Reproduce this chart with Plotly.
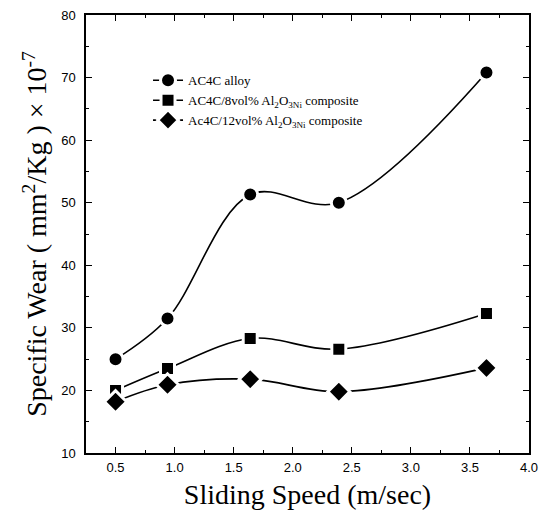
import plotly.graph_objects as go

# Sliding speed (m/sec) at which each specimen was tested
speed = [0.5, 0.94, 1.64, 2.39, 3.64]

# Specific wear (mm^2/Kg x 10^-7)
wear_alloy = [25.0, 31.5, 51.3, 50.0, 70.8]
wear_8vol = [20.0, 23.5, 28.3, 26.6, 32.3]
wear_12vol = [18.2, 20.9, 21.8, 19.8, 23.6]

series = [
    ("AC4C alloy", wear_alloy, "circle", 15),
    ("AC4C/8vol% Al<sub>2</sub>O<sub>3Ni</sub> composite", wear_8vol, "square", 14),
    ("Ac4C/12vol% Al<sub>2</sub>O<sub>3Ni</sub> composite", wear_12vol, "diamond", 17),
]

fig = go.Figure()
for name, ys, sym, size in series:
    fig.add_trace(go.Scatter(
        x=speed, y=ys, name=name, mode="lines+markers",
        line=dict(color="black", width=1.6, shape="spline", smoothing=1.0),
        marker=dict(symbol=sym, size=size, color="black",
                    line=dict(color="white", width=3)),
    ))

axis_common = dict(
    showline=True, linecolor="black", linewidth=1.5, mirror="allticks",
    ticks="inside", ticklen=6, tickwidth=1.2, tickcolor="black",
    showgrid=False, zeroline=False, automargin=False,
    tickfont=dict(family="Liberation Sans", size=13, color="black"),
)

fig.update_xaxes(
    range=[0.25, 4.0], tickvals=[0.5, 1.0, 1.5, 2.0, 2.5, 3.0, 3.5, 4.0],
    ticktext=["0.5", "1.0", "1.5", "2.0", "2.5", "3.0", "3.5", "4.0"],
    minor=dict(dtick=0.25, tick0=0.25, ticks="inside", ticklen=3, tickcolor="black"),
    ticklabelstandoff=2,
    title=dict(text="Sliding Speed (m/sec)", standoff=10,
               font=dict(family="Liberation Serif", size=28, color="black")),
    **axis_common,
)
fig.update_yaxes(
    range=[10, 80], dtick=10,
    minor=dict(dtick=5, ticks="inside", ticklen=3, tickcolor="black"),
    ticklabelstandoff=6,
    title=dict(text="Specific Wear ( mm<sup>2</sup>/Kg ) × 10<sup>-7</sup>", standoff=6,
               font=dict(family="Liberation Serif", size=28, color="black")),
    **axis_common,
)

fig.update_layout(
    width=539, height=521,
    margin=dict(l=86, r=10, t=15, b=68),
    paper_bgcolor="white", plot_bgcolor="white",
    showlegend=True,
    legend=dict(x=0.14, y=0.885, xanchor="left", yanchor="top",
                bgcolor="rgba(0,0,0,0)", tracegroupgap=0,
                font=dict(family="Liberation Serif", size=13, color="black")),
)

fig.write_html("out.html")
